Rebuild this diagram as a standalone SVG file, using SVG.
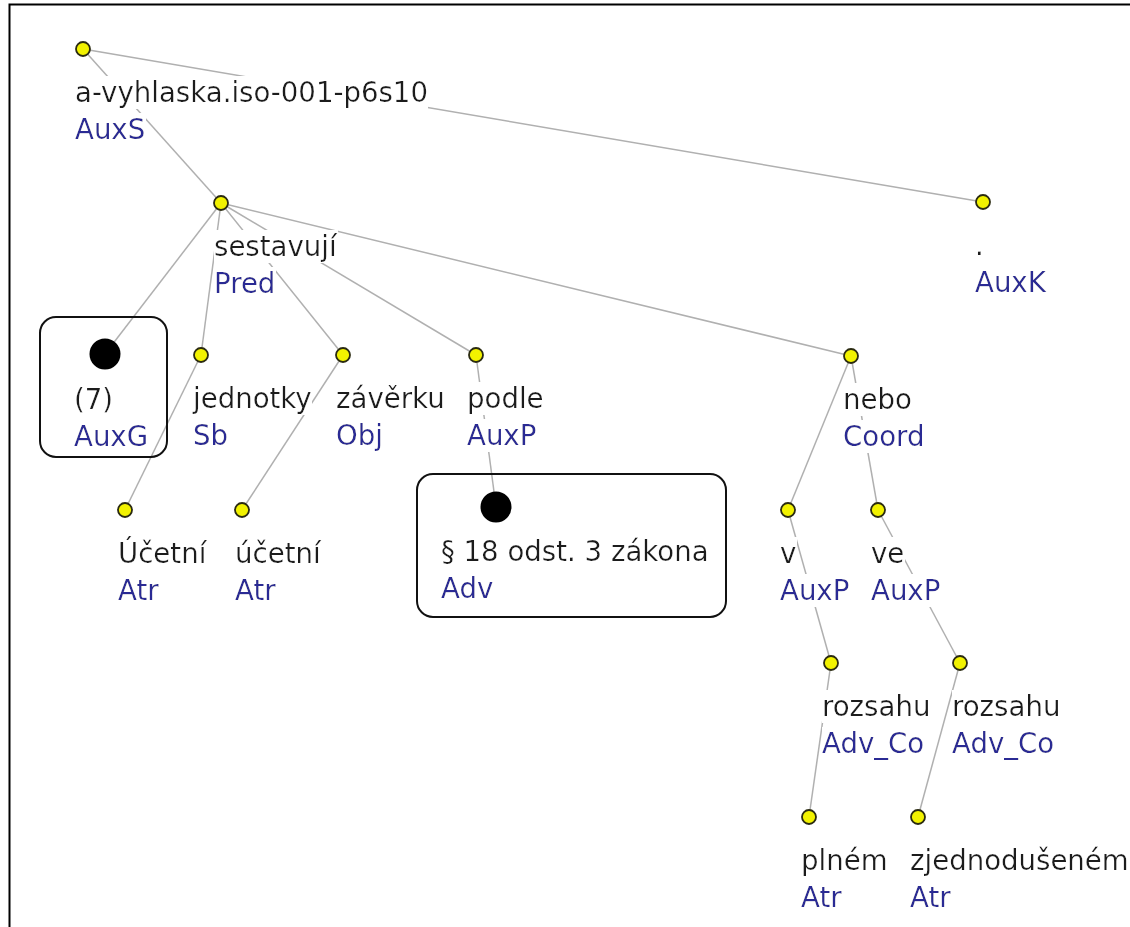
<svg xmlns="http://www.w3.org/2000/svg" width="1130" height="927" viewBox="0 0 1130 927">
  <defs>
    <style>
      .edge { stroke: #b0b0b0; stroke-width: 1.5; fill: none; }
      .dot { fill: #f2f200; stroke: #2a2a10; stroke-width: 1.8; }
      .big { fill: #000; }
      .box { fill: none; stroke: #111; stroke-width: 2; }
      text { font-family: "DejaVu Sans", "Liberation Sans", sans-serif; font-size: 27.6px; filter: url(#knockout); }
      .form { fill: #1a1a1a; }
      .afun { fill: #2a2a94; }
    </style>
    <!-- white plate behind each label so edges pass under the text -->
    <filter id="knockout" x="0" y="0" width="1" height="1">
      <feFlood flood-color="#ffffff" result="plate"/>
      <feMerge>
        <feMergeNode in="plate"/>
        <feMergeNode in="SourceGraphic"/>
      </feMerge>
    </filter>
  </defs>

  <rect x="0" y="0" width="1130" height="927" fill="#ffffff"/>
  <rect x="9.5" y="4.5" width="1200" height="1000" fill="none" stroke="#000" stroke-width="2"/>

  <g id="edges">
    <line class="edge" x1="83" y1="49" x2="221" y2="203"/>
    <line class="edge" x1="83" y1="49" x2="983" y2="202"/>
    <line class="edge" x1="221" y1="203" x2="105" y2="354"/>
    <line class="edge" x1="221" y1="203" x2="201" y2="355"/>
    <line class="edge" x1="221" y1="203" x2="343" y2="355"/>
    <line class="edge" x1="221" y1="203" x2="476" y2="355"/>
    <line class="edge" x1="221" y1="203" x2="851" y2="356"/>
    <line class="edge" x1="201" y1="355" x2="125" y2="510"/>
    <line class="edge" x1="343" y1="355" x2="242" y2="510"/>
    <line class="edge" x1="476" y1="355" x2="496" y2="507"/>
    <line class="edge" x1="851" y1="356" x2="788" y2="510"/>
    <line class="edge" x1="851" y1="356" x2="878" y2="510"/>
    <line class="edge" x1="788" y1="510" x2="831" y2="663"/>
    <line class="edge" x1="878" y1="510" x2="960" y2="663"/>
    <line class="edge" x1="831" y1="663" x2="809" y2="817"/>
    <line class="edge" x1="960" y1="663" x2="918" y2="817"/>
  </g>

  <g id="n-root">
    <text class="form" x="75" y="102">a-vyhlaska.iso-001-p6s10</text>
    <text class="afun" x="75" y="139">AuxS</text>
    <circle class="dot" cx="83" cy="49" r="7"/>
  </g>

  <g id="n-sestavuji">
    <text class="form" x="214" y="256">sestavují</text>
    <text class="afun" x="214" y="293">Pred</text>
    <circle class="dot" cx="221" cy="203" r="7"/>
  </g>

  <g id="n-period">
    <text class="form" x="975" y="255">.</text>
    <text class="afun" x="975" y="292">AuxK</text>
    <circle class="dot" cx="983" cy="202" r="7"/>
  </g>

  <g id="n-7">
    <rect class="box" x="40" y="317" width="127" height="140" rx="16"/>
    <text class="form" x="74" y="409">(7)</text>
    <text class="afun" x="74" y="446">AuxG</text>
    <circle class="big" cx="105" cy="354" r="15.5"/>
  </g>

  <g id="n-jednotky">
    <text class="form" x="193" y="408">jednotky</text>
    <text class="afun" x="193" y="445">Sb</text>
    <circle class="dot" cx="201" cy="355" r="7"/>
  </g>

  <g id="n-zaverku">
    <text class="form" x="336" y="408">závěrku</text>
    <text class="afun" x="336" y="445">Obj</text>
    <circle class="dot" cx="343" cy="355" r="7"/>
  </g>

  <g id="n-podle">
    <text class="form" x="467" y="408">podle</text>
    <text class="afun" x="467" y="445">AuxP</text>
    <circle class="dot" cx="476" cy="355" r="7"/>
  </g>

  <g id="n-nebo">
    <text class="form" x="843" y="409">nebo</text>
    <text class="afun" x="843" y="446">Coord</text>
    <circle class="dot" cx="851" cy="356" r="7"/>
  </g>

  <g id="n-ucetni1">
    <text class="form" x="118" y="563">Účetní</text>
    <text class="afun" x="118" y="600">Atr</text>
    <circle class="dot" cx="125" cy="510" r="7"/>
  </g>

  <g id="n-ucetni2">
    <text class="form" x="235" y="563">účetní</text>
    <text class="afun" x="235" y="600">Atr</text>
    <circle class="dot" cx="242" cy="510" r="7"/>
  </g>

  <g id="n-zakona">
    <rect class="box" x="417" y="474" width="309" height="143" rx="16"/>
    <text class="form" x="441" y="561">§ 18 odst. 3 zákona</text>
    <text class="afun" x="441" y="598">Adv</text>
    <circle class="big" cx="496" cy="507" r="15.5"/>
  </g>

  <g id="n-v">
    <text class="form" x="780" y="563">v</text>
    <text class="afun" x="780" y="600">AuxP</text>
    <circle class="dot" cx="788" cy="510" r="7"/>
  </g>

  <g id="n-ve">
    <text class="form" x="871" y="563">ve</text>
    <text class="afun" x="871" y="600">AuxP</text>
    <circle class="dot" cx="878" cy="510" r="7"/>
  </g>

  <g id="n-rozsahu1">
    <text class="form" x="822" y="716">rozsahu</text>
    <text class="afun" x="822" y="753">Adv_Co</text>
    <circle class="dot" cx="831" cy="663" r="7"/>
  </g>

  <g id="n-rozsahu2">
    <text class="form" x="952" y="716">rozsahu</text>
    <text class="afun" x="952" y="753">Adv_Co</text>
    <circle class="dot" cx="960" cy="663" r="7"/>
  </g>

  <g id="n-plnem">
    <text class="form" x="801" y="870">plném</text>
    <text class="afun" x="801" y="907">Atr</text>
    <circle class="dot" cx="809" cy="817" r="7"/>
  </g>

  <g id="n-zjednodusenem">
    <text class="form" x="910" y="870">zjednodušeném</text>
    <text class="afun" x="910" y="907">Atr</text>
    <circle class="dot" cx="918" cy="817" r="7"/>
  </g>
</svg>
